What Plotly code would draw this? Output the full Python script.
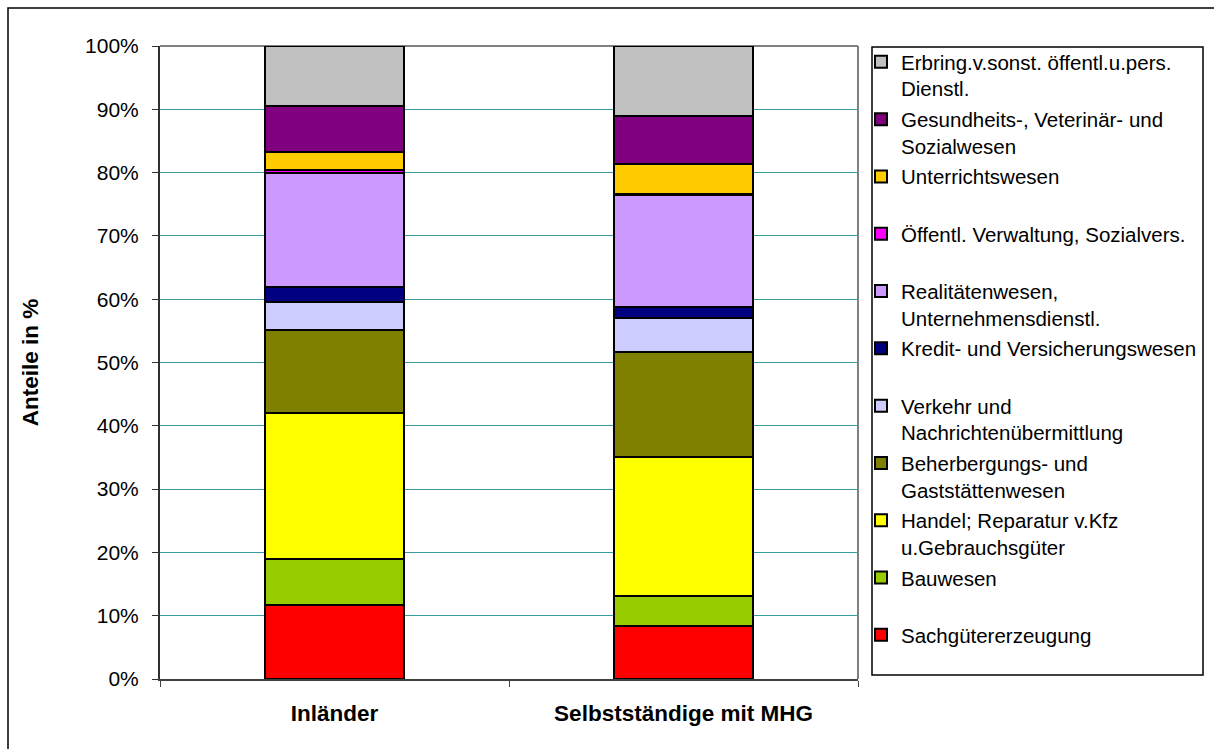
import plotly.graph_objects as go

# Groups compared on the x axis
groups = ["Inländer", "Selbstständige mit MHG"]

# Industry sectors, bottom of the stack first
sectors = [
    "Sachgütererzeugung",
    "Bauwesen",
    "Handel; Reparatur v.Kfz<br>u.Gebrauchsgüter",
    "Beherbergungs- und<br>Gaststättenwesen",
    "Verkehr und<br>Nachrichtenübermittlung",
    "Kredit- und Versicherungswesen",
    "Realitätenwesen,<br>Unternehmensdienstl.",
    "Öffentl. Verwaltung, Sozialvers.",
    "Unterrichtswesen",
    "Gesundheits-, Veterinär- und<br>Sozialwesen",
    "Erbring.v.sonst. öffentl.u.pers.<br>Dienstl.",
]

# Shares in percent per sector: [Inländer, Selbstständige mit MHG]
sachgueter = [11.7, 8.4]
bauwesen = [7.3, 4.7]
handel = [23.1, 22.0]
beherbergung = [13.0, 16.6]
verkehr = [4.5, 5.3]
kredit = [2.4, 1.7]
realitaeten = [18.0, 17.7]
verwaltung = [0.4, 0.2]
unterricht = [2.9, 4.7]
gesundheit = [7.3, 7.7]
sonstige = [9.4, 11.0]

values = [sachgueter, bauwesen, handel, beherbergung, verkehr, kredit,
          realitaeten, verwaltung, unterricht, gesundheit, sonstige]

colors = ["#FF0000", "#99CC00", "#FFFF00", "#808000", "#CCCCFF", "#000080",
          "#CC99FF", "#FF00FF", "#FFCC00", "#800080", "#C0C0C0"]

FONT = "Liberation Sans, Arial, sans-serif"

fig = go.Figure()
n = len(sectors)
for i, (name, vals, col) in enumerate(zip(sectors, values, colors)):
    # every legend entry takes two text lines so the slots are evenly spaced
    label = name if "<br>" in name else name + "<br> "
    fig.add_trace(go.Bar(
        x=groups, y=vals, name=label,
        legendgroup=f"g{i}",
        legendrank=100 + n - i,  # top of the stack listed first
        marker=dict(color=col, line=dict(color="#000000", width=2)),
        width=0.4,
    ))

W, H = 1214, 749
L, R, T, B = 160, 858, 46, 679
pw, ph = R - L, B - T

def px(x):
    return (x - L) / pw

def py(y):
    return (B - y) / ph

fig.update_layout(
    width=W, height=H,
    margin=dict(l=L, r=W - R, t=T, b=H - B, autoexpand=False),
    barmode="stack",
    paper_bgcolor="white", plot_bgcolor="white",
    font=dict(family=FONT, size=21, color="#000000"),
    showlegend=True,
    legend=dict(
        x=px(861), y=py(42), xanchor="left", yanchor="top",
        traceorder="grouped", tracegroupgap=1,
        borderwidth=0, bgcolor="rgba(0,0,0,0)",
        font=dict(family=FONT, size=20.5, color="#000000"),
        valign="top", maxheight=749,
    ),
    xaxis=dict(
        showgrid=False, showline=True, linecolor="#404040", linewidth=2,
        ticks="outside", tickson="boundaries", ticklen=6, tickcolor="#404040",
        tickfont=dict(family=FONT, size=22.5, color="#000000", weight="bold"),
        ticklabelstandoff=13,
    ),
    yaxis=dict(
        range=[0, 100], dtick=10, ticksuffix="%",
        showgrid=True, gridcolor="#3A9C9C", gridwidth=1,
        showline=True, linecolor="#303030", linewidth=2,
        ticks="outside", ticklen=6, tickcolor="#303030",
        tickfont=dict(family=FONT, size=21, color="#000000"),
        ticklabelstandoff=9,
        zeroline=False,
        title=dict(text="Anteile in %", standoff=40,
                   font=dict(family=FONT, size=22.5, color="#000000", weight="bold")),
    ),
    shapes=[
        # plot-area border (top and right edges in grey)
        dict(type="line", xref="x domain", yref="y domain", x0=0, x1=1, y0=1, y1=1,
             line=dict(color="#808080", width=2), layer="below"),
        dict(type="line", xref="x domain", yref="y domain", x0=1, x1=1, y0=0, y1=1,
             line=dict(color="#808080", width=2), layer="below"),
        # legend box
        dict(type="rect", xref="paper", yref="paper",
             x0=px(872), x1=px(1203), y0=py(47), y1=py(675),
             line=dict(color="#000000", width=1.5), fillcolor="white", layer="below"),
        # outer chart frame
        dict(type="rect", xref="paper", yref="paper",
             x0=px(8), x1=px(1230), y0=py(8), y1=py(780),
             line=dict(color="#000000", width=1.5), layer="below"),
    ],
)

fig.write_html("out.html")
